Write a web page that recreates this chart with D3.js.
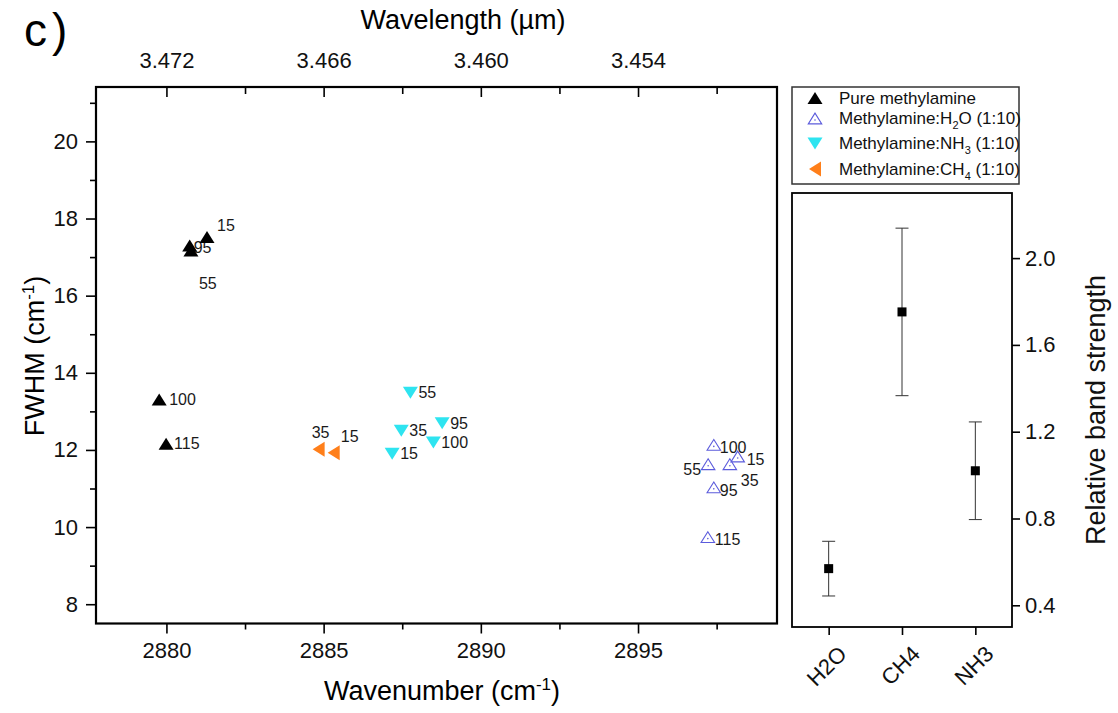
<!DOCTYPE html>
<html>
<head>
<meta charset="utf-8">
<script src="https://cdn.jsdelivr.net/npm/d3@7"></script>
<style>
body { margin: 0; background: #fff; }
svg { font-family: "Liberation Sans", Arial, sans-serif; }
</style>
</head>
<body>
<div id="chart"></div>
<script>
// FWHM of the band vs its position, label = temperature (K)
var pureTemp = ["15", "95", "55", "100", "115"];
var pureWn   = [2881.29, 2880.74, 2880.78, 2879.77, 2879.99];
var pureFwhm = [17.52, 17.30, 17.17, 13.31, 12.16];

var h2oTemp = ["100", "15", "55", "35", "95", "115"];
var h2oWn   = [2897.41, 2898.17, 2897.23, 2897.92, 2897.41, 2897.22];
var h2oFwhm = [12.13, 11.83, 11.63, 11.63, 11.03, 9.74];

var nh3Temp = ["55", "95", "35", "100", "15"];
var nh3Wn   = [2887.76, 2888.77, 2887.47, 2888.49, 2887.18];
var nh3Fwhm = [13.48, 12.69, 12.50, 12.19, 11.90];

var ch4Temp = ["35", "15"];
var ch4Wn   = [2884.84, 2885.32];
var ch4Fwhm = [12.02, 11.93];

var wnTicks = [2880, 2885, 2890, 2895];
var wnMinor = [2882.5, 2887.5, 2892.5, 2897.5];
var fwhmTicks = [8, 10, 12, 14, 16, 18, 20];
var fwhmMinor = [9, 11, 13, 15, 17, 19, 21];

// relative band strength panel
var mixCats = ["H2O", "CH4", "NH3"];
var strength = [0.569, 1.752, 1.02];
var strengthErr = [0.126, 0.386, 0.225];
var strengthTicks = [0.4, 0.8, 1.2, 1.6, 2.0];

// where the temperature labels sit next to their marker (px)
var labelPos = {
  "pure15": [10, -12], "pure95": [4, 2], "pure55": [8, 33], "pure100": [10, 0], "pure115": [8, 0],
  "ch435": [2, -17, "middle"], "ch415": [16, -16, "middle"],
  "h2o100": [6, 2], "h2o15": [9, 3], "h2o55": [-7, 5, "end"], "h2o35": [11, 16], "h2o95": [6, 3], "h2o115": [7, 2]
};

var W = 1118, H = 713;
var svg = d3.select("#chart").append("svg").attr("width", W).attr("height", H);

var x = d3.scaleLinear().domain([2877.76, 2899.42]).range([96, 777]);
var y = d3.scaleLinear().domain([7.5, 21.41]).range([623.5, 87]);

var series = [
  { key: "pure", temp: pureTemp, wn: pureWn, fw: pureFwhm, shape: "up", fill: "#000", stroke: "none" },
  { key: "h2o", temp: h2oTemp, wn: h2oWn, fw: h2oFwhm, shape: "up", fill: "none", stroke: "#5c5cdc" },
  { key: "nh3", temp: nh3Temp, wn: nh3Wn, fw: nh3Fwhm, shape: "down", fill: "#2ee4f0", stroke: "none" },
  { key: "ch4", temp: ch4Temp, wn: ch4Wn, fw: ch4Fwhm, shape: "left", fill: "#ff7f1a", stroke: "none" }
];

const markerPath = (shape, s) => {
  var w = 7.5 * s, h = 6 * s;
  if (shape == "up") return "M0," + (-h) + "L" + w + "," + h + "L" + (-w) + "," + h + "Z";
  if (shape == "down") return "M0," + h + "L" + w + "," + (-h) + "L" + (-w) + "," + (-h) + "Z";
  return "M" + (-h) + ",0L" + h + "," + (-w) + "L" + h + "," + w + "Z";
};

const axisStyle = (g, size) => {
  g.select(".domain").remove();
  g.selectAll("line").attr("stroke", "#000").attr("stroke-width", 1.6);
  g.selectAll("text").attr("font-size", size).attr("fill", "#111");
};

// bottom axis
svg.append("g").attr("transform", "translate(0,623.5)")
  .call(d3.axisBottom(x).tickValues(wnTicks).tickSize(10).tickPadding(9).tickFormat(d3.format("d")))
  .call(axisStyle, 22);
svg.append("g").attr("transform", "translate(0,623.5)")
  .call(d3.axisBottom(x).tickValues(wnMinor).tickSize(6).tickFormat(""))
  .call(axisStyle, 22);

// top axis: wavelength in um at the same positions
svg.append("g").attr("transform", "translate(0,87)")
  .call(d3.axisTop(x).tickValues(wnTicks).tickSize(-10).tickPadding(19).tickFormat(d => (1e4 / d).toFixed(3)))
  .call(axisStyle, 22);
svg.append("g").attr("transform", "translate(0,87)")
  .call(d3.axisTop(x).tickValues(wnMinor).tickSize(-7).tickFormat(""))
  .call(axisStyle, 22);

// left axis
svg.append("g").attr("transform", "translate(96,0)")
  .call(d3.axisLeft(y).tickValues(fwhmTicks).tickSize(10).tickPadding(8))
  .call(axisStyle, 22);
svg.append("g").attr("transform", "translate(96,0)")
  .call(d3.axisLeft(y).tickValues(fwhmMinor).tickSize(6).tickFormat(""))
  .call(axisStyle, 22);

svg.append("rect")
  .attr("x", 96).attr("y", 87).attr("width", 777 - 96).attr("height", 623.5 - 87)
  .attr("fill", "none").attr("stroke", "#000").attr("stroke-width", 2.2);

// titles
var t1 = svg.append("text").attr("x", 442).attr("y", 700).attr("text-anchor", "middle").attr("font-size", 27);
t1.append("tspan").text("Wavenumber (cm");
t1.append("tspan").attr("dy", -10).attr("font-size", 17).text("-1");
t1.append("tspan").attr("dy", 10).text(")");

svg.append("text").attr("x", 463).attr("y", 29).attr("text-anchor", "middle").attr("font-size", 27)
  .text("Wavelength (\u00b5m)");

var t2 = svg.append("text").attr("transform", "translate(44,356) rotate(-90)")
  .attr("text-anchor", "middle").attr("font-size", 27);
t2.append("tspan").text("FWHM (cm");
t2.append("tspan").attr("dy", -10).attr("font-size", 17).text("-1");
t2.append("tspan").attr("dy", 10).text(")");

svg.append("text").attr("x", 24).attr("y", 46).attr("font-size", 46).attr("letter-spacing", 5).text("c)");

// temperature labels, then markers
series.forEach(s => {
  var pts = s.temp.map((t, i) => ({ t: t, wn: s.wn[i], fw: s.fw[i] }));
  svg.append("g").selectAll("text")
    .data(pts).enter().append("text")
    .attr("x", d => x(d.wn) + (labelPos[s.key + d.t] || [8, 0])[0])
    .attr("y", d => y(d.fw) + (labelPos[s.key + d.t] || [8, 0])[1])
    .attr("dy", "0.35em")
    .attr("text-anchor", d => (labelPos[s.key + d.t] || [])[2] || "start")
    .attr("font-size", 16).attr("fill", "#1a1a1a")
    .text(d => d.t);
});
series.forEach(s => {
  var pts = s.temp.map((t, i) => ({ t: t, wn: s.wn[i], fw: s.fw[i] }));
  var g = svg.append("g");
  g.selectAll("path")
    .data(pts).enter().append("path")
    .attr("transform", d => "translate(" + x(d.wn) + "," + y(d.fw) + ")")
    .attr("d", markerPath(s.shape, s.fill == "none" ? 0.9 : 1))
    .attr("fill", s.fill).attr("stroke", s.stroke).attr("stroke-width", 1.1);
  if (s.fill == "none") {
    g.selectAll("circle")
      .data(pts).enter().append("circle")
      .attr("cx", d => x(d.wn)).attr("cy", d => y(d.fw) + 1.5).attr("r", 0.8).attr("fill", s.stroke);
  }
});

// legend
var legendNames = [
  ["Pure methylamine"],
  ["Methylamine:H", "2", "O (1:10)"],
  ["Methylamine:NH", "3", " (1:10)"],
  ["Methylamine:CH", "4", " (1:10)"]
];
var legendRowY = [98, 118.5, 143.5, 169];
svg.append("rect").attr("x", 792).attr("y", 87).attr("width", 227).attr("height", 97)
  .attr("fill", "#fff").attr("stroke", "#333").attr("stroke-width", 1.5);
series.forEach((s, i) => {
  svg.append("path")
    .attr("transform", "translate(815," + legendRowY[i] + ")")
    .attr("d", markerPath(s.shape, s.fill == "none" ? 0.9 : 1))
    .attr("fill", s.fill).attr("stroke", s.stroke).attr("stroke-width", 1.1);
  if (s.fill == "none")
    svg.append("circle").attr("cx", 815).attr("cy", legendRowY[i] + 1.5).attr("r", 0.8).attr("fill", s.stroke);
  var tx = svg.append("text").attr("x", 839).attr("y", legendRowY[i]).attr("dy", "0.35em")
    .attr("font-size", 17).attr("fill", "#111");
  tx.append("tspan").text(legendNames[i][0]);
  if (legendNames[i].length > 1) {
    tx.append("tspan").attr("dy", 5).attr("font-size", 11).text(legendNames[i][1]);
    tx.append("tspan").attr("dy", -5).text(legendNames[i][2]);
  }
});

// right panel: relative band strength
var xb = d3.scalePoint().domain(mixCats).range([792, 1012]).padding(0.5);
var yb = d3.scaleLinear().domain([0.3, 2.3]).range([627, 193]);

svg.append("g").attr("transform", "translate(0,627)")
  .call(d3.axisBottom(xb).tickSize(8).tickFormat(""))
  .call(axisStyle, 22);
svg.append("g").attr("transform", "translate(1012,0)")
  .call(d3.axisRight(yb).tickValues(strengthTicks).tickSize(8).tickPadding(5).tickFormat(d3.format(".1f")))
  .call(axisStyle, 22);

svg.append("g").selectAll("text")
  .data(mixCats).enter().append("text")
  .attr("transform", d => "translate(" + (xb(d) + 14) + ",650) rotate(-45)")
  .attr("text-anchor", "end").attr("dy", "0.35em")
  .attr("font-size", 22).attr("fill", "#111")
  .text(d => d);

svg.append("rect")
  .attr("x", 792).attr("y", 193).attr("width", 1012 - 792).attr("height", 627 - 193)
  .attr("fill", "none").attr("stroke", "#000").attr("stroke-width", 1.8);

var bars = svg.append("g").selectAll("g")
  .data(mixCats).enter().append("g");
bars.append("line")
  .attr("x1", d => xb(d)).attr("x2", d => xb(d))
  .attr("y1", (d, i) => yb(strength[i] - strengthErr[i]))
  .attr("y2", (d, i) => yb(strength[i] + strengthErr[i]))
  .attr("stroke", "#333").attr("stroke-width", 1);
[-1, 1].forEach(sgn => {
  bars.append("line")
    .attr("x1", d => xb(d) - 6.5).attr("x2", d => xb(d) + 6.5)
    .attr("y1", (d, i) => yb(strength[i] + sgn * strengthErr[i]))
    .attr("y2", (d, i) => yb(strength[i] + sgn * strengthErr[i]))
    .attr("stroke", "#333").attr("stroke-width", 1);
});
bars.append("rect")
  .attr("x", d => xb(d) - 4.5).attr("y", (d, i) => yb(strength[i]) - 4.5)
  .attr("width", 9).attr("height", 9).attr("fill", "#000");

svg.append("text").attr("transform", "translate(1105,410) rotate(-90)")
  .attr("text-anchor", "middle").attr("font-size", 27).attr("fill", "#111")
  .text("Relative band strength");
</script>
</body>
</html>
